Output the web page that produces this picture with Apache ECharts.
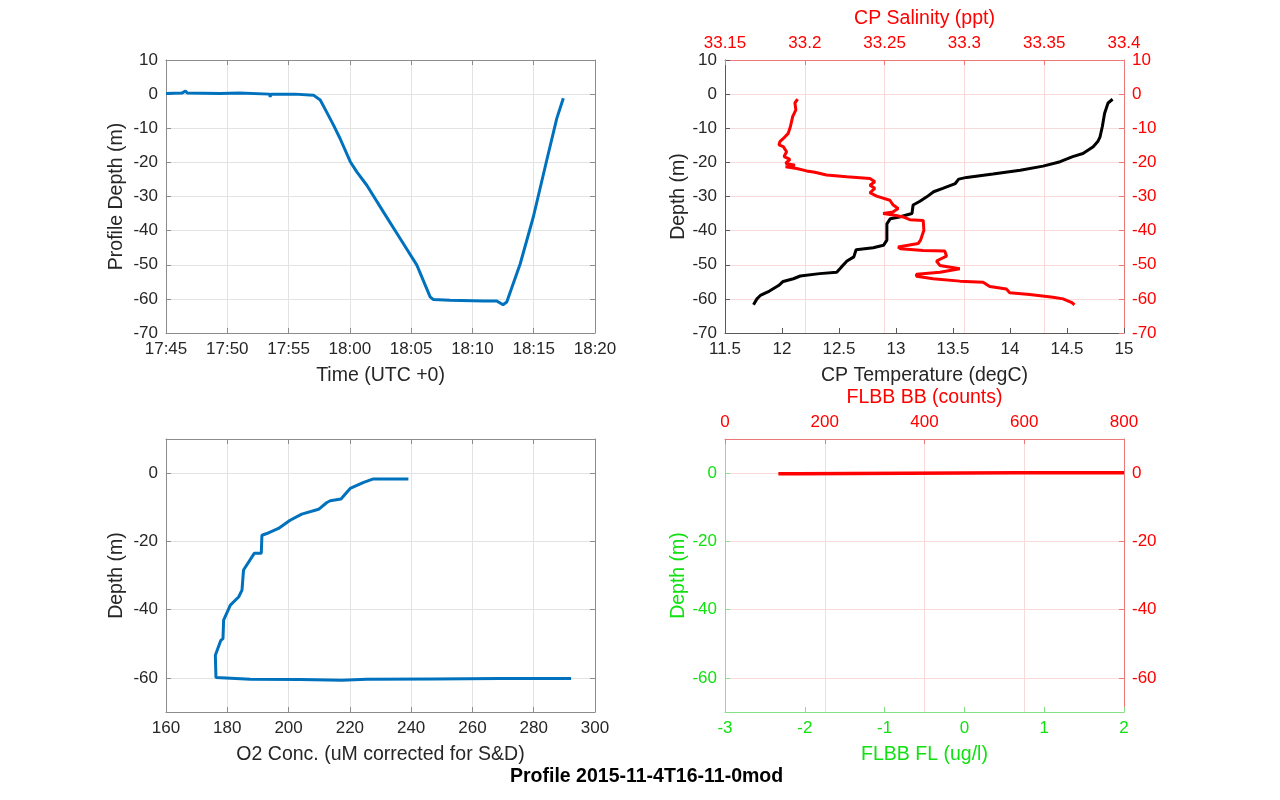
<!DOCTYPE html>
<html>
<head>
<meta charset="utf-8">
<title>Profile 2015-11-4T16-11-0mod</title>
<script src="https://cdn.jsdelivr.net/npm/echarts@6/dist/echarts.min.js"></script>
<style>
    html, body { margin: 0; padding: 0; background: #fff; }
    #chart { width: 1280px; height: 800px; }
</style>
</head>
<body>
<div id="chart"></div>
<script>
// ---- values ----
// top left: profile depth against time
const profileTimes = ['17:45:00', '17:46:18', '17:46:35', '17:46:45', '17:49:24', '17:49:27', '17:49:30',
    '17:51:00', '17:53:27', '17:53:30', '17:53:33', '17:55:30', '17:57:02', '17:57:35', '17:58:06',
    '17:58:40', '17:59:12', '18:00:02', '18:00:34', '18:01:23', '18:02:44', '18:04:06', '18:05:28',
    '18:06:33', '18:06:49', '18:08:11', '18:10:54', '18:11:59', '18:12:30', '18:12:48', '18:13:54',
    '18:14:58', '18:16:04', '18:16:53', '18:17:25'];
const profileDepths = [0.2, 0.3, 0.9, 0.3, 0.2, -0.2, 0.2, 0.3, 0.0, -0.8, 0.0, 0.0, -0.3, -1.7, -5.2,
    -9.1, -13.0, -19.8, -22.8, -26.7, -34.5, -42.3, -50.1, -59.4, -60.2, -60.4, -60.6, -60.6, -61.7,
    -60.9, -49.7, -36.0, -19.3, -7.1, -1.2];

// top right: CP temperature (black) and salinity (red) against depth
const tempDepths = [-1.5, -2.6, -5.6, -9.5, -12.5, -13.9, -15.4, -17.4, -18.3, -19.8, -21.1, -22.3, -23.4,
    -24.4, -24.9, -26.2, -27.6, -28.6, -30.1, -31.4, -32.5, -35.0, -36.0, -36.5, -38.0, -42.8, -44.3,
    -45.0, -45.6, -47.7, -48.9, -50.7, -52.2, -52.6, -53.3, -54.1, -54.9, -56.1, -57.7, -59.0, -60.0, -61.7];
const temps = [14.90, 14.86, 14.83, 14.81, 14.79, 14.77, 14.73, 14.64, 14.55, 14.44, 14.29, 14.09, 13.85,
    13.62, 13.55, 13.52, 13.41, 13.33, 13.27, 13.21, 13.15, 13.14, 13.03, 12.95, 12.92, 12.92, 12.89,
    12.80, 12.65, 12.63, 12.57, 12.52, 12.48, 12.33, 12.16, 12.10, 12.01, 11.97, 11.89, 11.81, 11.78, 11.75];
const salDepths = [-1.5, -2.6, -4.6, -6.6, -9.5, -11.5, -12.5, -13.9, -14.9, -15.4, -16.9, -18.3, -19.1,
    -20.3, -20.8, -21.3, -21.8, -22.5, -22.9, -23.7, -24.2, -24.7, -25.7, -26.7, -27.6, -28.9, -29.9,
    -31.1, -32.5, -33.5, -34.5, -35.0, -35.5, -36.0, -36.8, -37.0, -39.9, -42.8, -43.8, -44.8, -45.3,
    -45.8, -46.0, -47.5, -48.9, -50.2, -51.2, -52.2, -52.8, -53.4, -54.1, -54.8, -55.1, -56.4, -57.1,
    -58.2, -58.7, -59.5, -60.0, -61.0, -61.7];
const salinities = [33.1955, 33.1938, 33.1944, 33.1924, 33.1910, 33.1896, 33.1876, 33.1844, 33.1838,
    33.1865, 33.1886, 33.1870, 33.1907, 33.1880, 33.1938, 33.1880, 33.1949, 33.2011, 33.2063, 33.2136,
    33.2262, 33.2408, 33.2439, 33.2408, 33.2439, 33.2408, 33.2450, 33.2533, 33.2554, 33.2585, 33.2554,
    33.2491, 33.2564, 33.2616, 33.2658, 33.2742, 33.2746, 33.2725, 33.2710, 33.2585, 33.2600, 33.2742,
    33.2877, 33.2888, 33.2825, 33.2846, 33.2971, 33.2846, 33.2700, 33.2700, 33.2804, 33.2971, 33.3117,
    33.3159, 33.3263, 33.3284, 33.3409, 33.3555, 33.3618, 33.3670, 33.3690];

// bottom left: O2 concentration against depth
const o2Depths = [-1.7, -1.7, -2.7, -4.5, -7.6, -8.1, -8.6, -10.6, -12.0, -13.8, -16.2, -17.7, -18.2,
    -23.5, -23.5, -28.4, -34.3, -36.3, -38.7, -43.1, -48.5, -49.0, -53.4, -59.9, -60.2, -60.4, -60.5,
    -60.7, -60.4, -60.3, -60.2, -60.2];
const o2Values = [239.1, 227.7, 224.5, 220.1, 217.1, 213.6, 212.5, 209.8, 204.3, 200.5, 196.7, 192.9,
    191.3, 191.1, 188.8, 185.3, 184.8, 183.7, 181.0, 178.8, 178.6, 177.9, 176.1, 176.3, 176.8, 187.5,
    203.8, 217.4, 225.5, 247.3, 269.0, 292.2];

// bottom right: FLBB backscatter counts against depth
const bbDepths = [-0.2, -0.2, 0.1, 0.1, 0.0, 0.1];
const bbCounts = [107, 144, 144, 585, 585, 800];

// tick values
const depthTicks20 = [-60, -40, -20, 0];

// ---- styles ----
const FONT = '"Liberation Sans", Arial, Helvetica, sans-serif';
const TICK_SIZE = 17;
const NAME_SIZE = 19.5;  // MATLAB draws axis labels a bit bigger than tick labels
const TXT = '#262626';
const BOX = '#8c8c8c';
const GRID_GRAY = '#e3e3e3';
const RED = '#ff0000';
const RED_LINE = '#ec7878';
const PINK = '#f8dada';
const GREEN = '#11e011';
const GREEN_LINE = '#88e088';

const pairs = (xs, ys) => xs.map((x, i) => [x, ys[i]]);
const toMinutes = s => {
    const p = s.split(':').map(Number);
    return p[0] * 60 + p[1] + p[2] / 60;
};
const clock = v => Math.floor(v / 60) + ':' + String(Math.round(v % 60)).padStart(2, '0');

// one value axis, MATLAB look: ticks inside, box line, optional grid
function makeAxis(o) {
    const a = {
        type: 'value',
        gridIndex: o.grid,
        position: o.pos,
        min: o.min,
        max: o.max,
        interval: o.interval,
        name: o.name || '',
        nameLocation: 'middle',
        nameGap: o.nameGap || 0,
        nameTextStyle: { fontFamily: FONT, fontSize: NAME_SIZE, color: o.color },
        axisLine: { show: true, onZero: false, lineStyle: { color: o.line, width: 1 } },
        axisTick: { show: true, inside: true, length: 5, lineStyle: { color: o.line } },
        axisLabel: {
            show: !!o.labels, color: o.color, fontFamily: FONT, fontSize: TICK_SIZE, margin: 8,
            formatter: o.formatter
        },
        splitLine: { show: !!o.split, lineStyle: { color: o.split, width: 1 } }
    };
    if (o.custom) {
        a.axisTick.customValues = o.custom;
        a.axisLabel.customValues = o.custom;
    }
    return a;
}

const chart = echarts.init(document.getElementById('chart'));

chart.setOption({
    backgroundColor: '#ffffff',
    animation: false,
    title: {
        text: 'Profile 2015-11-4T16-11-0mod',
        left: 505,
        top: 762,
        textStyle: { fontFamily: FONT, fontSize: NAME_SIZE, fontWeight: 'bold', color: '#000' }
    },
    grid: [
        { left: 166, top: 60, width: 429, height: 273 },
        { left: 725, top: 60, width: 399, height: 273 },
        { left: 166, top: 439, width: 429, height: 273 },
        { left: 725, top: 439, width: 399, height: 273 }
    ],
    xAxis: [
        // top left
        makeAxis({ grid: 0, pos: 'bottom', min: 1065, max: 1100, interval: 5, labels: true, formatter: clock,
            color: TXT, line: BOX, split: GRID_GRAY, name: 'Time (UTC +0)', nameGap: 33 }),
        makeAxis({ grid: 0, pos: 'top', min: 1065, max: 1100, interval: 5, color: TXT, line: BOX }),
        // top right
        makeAxis({ grid: 1, pos: 'bottom', min: 11.5, max: 15, interval: 0.5, labels: true,
            color: TXT, line: '#5a5a5a', name: 'CP Temperature (degC)', nameGap: 33 }),
        makeAxis({ grid: 1, pos: 'top', min: 33.15, max: 33.4, interval: 0.05, labels: true,
            color: RED, line: RED_LINE, split: PINK, name: 'CP Salinity (ppt)', nameGap: 31 }),
        // bottom left
        makeAxis({ grid: 2, pos: 'bottom', min: 160, max: 300, interval: 20, labels: true,
            color: TXT, line: BOX, split: GRID_GRAY, name: 'O2 Conc. (uM corrected for S&D)', nameGap: 33 }),
        makeAxis({ grid: 2, pos: 'top', min: 160, max: 300, interval: 20, color: TXT, line: BOX }),
        // bottom right
        makeAxis({ grid: 3, pos: 'bottom', min: -3, max: 2, interval: 1, labels: true,
            color: GREEN, line: GREEN_LINE, name: 'FLBB FL (ug/l)', nameGap: 33 }),
        makeAxis({ grid: 3, pos: 'top', min: 0, max: 800, interval: 200, labels: true,
            color: RED, line: RED_LINE, split: PINK, name: 'FLBB BB (counts)', nameGap: 31 })
    ],
    yAxis: [
        makeAxis({ grid: 0, pos: 'left', min: -70, max: 10, interval: 10, labels: true,
            color: TXT, line: BOX, split: GRID_GRAY, name: 'Profile Depth (m)', nameGap: 39 }),
        makeAxis({ grid: 0, pos: 'right', min: -70, max: 10, interval: 10, color: TXT, line: BOX }),
        makeAxis({ grid: 1, pos: 'left', min: -70, max: 10, interval: 10, labels: true,
            color: TXT, line: '#5a5a5a', name: 'Depth (m)', nameGap: 36 }),
        makeAxis({ grid: 1, pos: 'right', min: -70, max: 10, interval: 10, labels: true,
            color: RED, line: RED_LINE, split: PINK }),
        makeAxis({ grid: 2, pos: 'left', min: -70, max: 10, custom: depthTicks20, labels: true,
            color: TXT, line: BOX, split: GRID_GRAY, name: 'Depth (m)', nameGap: 39 }),
        makeAxis({ grid: 2, pos: 'right', min: -70, max: 10, custom: depthTicks20, color: TXT, line: BOX }),
        makeAxis({ grid: 3, pos: 'left', min: -70, max: 10, custom: depthTicks20, labels: true,
            color: GREEN, line: GREEN_LINE, name: 'Depth (m)', nameGap: 36 }),
        makeAxis({ grid: 3, pos: 'right', min: -70, max: 10, custom: depthTicks20, labels: true,
            color: RED, line: RED_LINE, split: PINK })
    ],
    series: [
        {
            name: 'Profile depth', type: 'line', xAxisIndex: 0, yAxisIndex: 0,
            data: pairs(profileTimes.map(toMinutes), profileDepths),
            symbol: 'none', lineStyle: { color: '#0072bd', width: 3 }
        },
        {
            name: 'CP Temperature', type: 'line', xAxisIndex: 2, yAxisIndex: 2,
            data: pairs(temps, tempDepths),
            symbol: 'none', lineStyle: { color: '#000000', width: 3 }
        },
        {
            name: 'CP Salinity', type: 'line', xAxisIndex: 3, yAxisIndex: 2,
            data: pairs(salinities, salDepths),
            symbol: 'none', lineStyle: { color: RED, width: 3 }
        },
        {
            name: 'O2', type: 'line', xAxisIndex: 4, yAxisIndex: 4,
            data: pairs(o2Values, o2Depths),
            symbol: 'none', lineStyle: { color: '#0072bd', width: 3 }
        },
        {
            name: 'FLBB BB', type: 'line', xAxisIndex: 7, yAxisIndex: 6,
            data: pairs(bbCounts, bbDepths),
            symbol: 'none', lineStyle: { color: RED, width: 3.5 }
        }
    ]
});
</script>
</body>
</html>
